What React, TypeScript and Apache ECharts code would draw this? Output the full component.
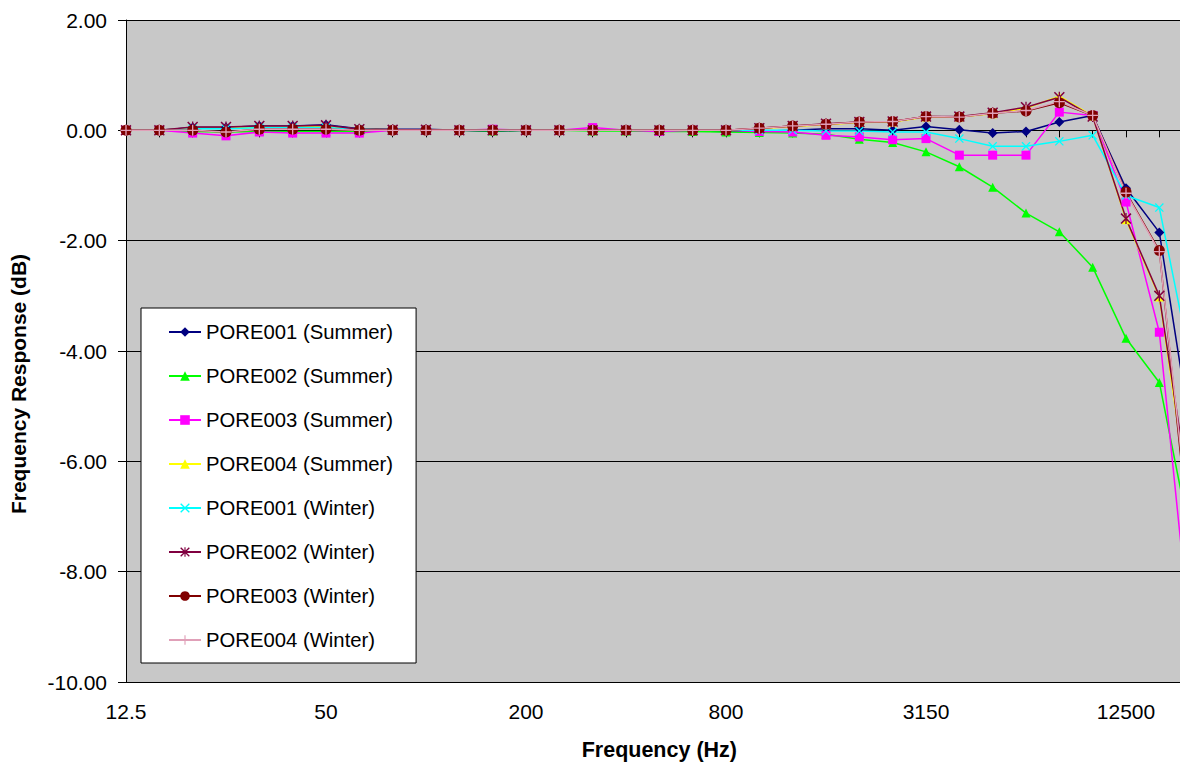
import React, { useEffect, useRef } from "react";
import * as echarts from "echarts";

const categories = [
  "12.5", "16", "20", "25", "31.5", "40", "50", "63", "80", "100", "125", "160",
  "200", "250", "315", "400", "500", "630", "800", "1000", "1250", "1600", "2000",
  "2500", "3150", "4000", "5000", "6300", "8000", "10000", "12500", "16000", "20000",
];

const pore001Summer = [0, 0, 0.05, 0.05, 0.08, 0.08, 0.1, 0.03, 0.02, 0.02, 0.0, -0.02, 0.0, 0.0, 0.0, 0.0, -0.01, -0.01, -0.02, -0.02, 0.0, 0.03, 0.03, 0.0, 0.07, 0.01, -0.05, -0.02, 0.15, 0.27, -1.05, -1.85, -5.7];
const pore002Summer = [0, 0, -0.02, -0.03, -0.02, -0.02, -0.02, -0.02, 0.0, 0.0, 0.0, -0.01, 0.0, 0.0, -0.01, -0.01, -0.02, -0.02, -0.03, -0.04, -0.05, -0.07, -0.16, -0.22, -0.39, -0.66, -1.03, -1.5, -1.84, -2.48, -3.77, -4.57, -7.6];
const pore003Summer = [0, 0, -0.05, -0.1, -0.03, -0.05, -0.05, -0.05, 0.0, 0.0, 0.0, 0.02, 0.0, 0.0, 0.05, 0.0, -0.02, 0.0, 0.0, -0.02, -0.03, -0.09, -0.12, -0.17, -0.15, -0.45, -0.45, -0.45, 0.33, 0.27, -1.3, -3.66, -9.6];
const pore004Summer = [0, 0, 0.04, 0.04, 0.06, 0.06, 0.07, 0.02, 0.01, 0.01, 0.0, 0.0, 0.0, 0.0, 0.0, 0.0, 0.0, 0.0, 0.0, 0.03, 0.07, 0.1, 0.14, 0.15, 0.24, 0.24, 0.3, 0.4, 0.62, 0.26, -1.62, -3.02, -7.2];
const pore001Winter = [0, 0, 0.03, 0.03, 0.05, 0.05, 0.05, 0.02, 0.0, 0.0, 0.0, 0.0, 0.0, 0.0, 0.0, 0.0, 0.0, 0.0, 0.0, 0.0, 0.0, -0.01, -0.01, -0.03, -0.03, -0.15, -0.29, -0.29, -0.2, -0.09, -1.18, -1.4, -4.4];
const pore002Winter = [0, 0, 0.06, 0.06, 0.08, 0.08, 0.09, 0.02, 0.01, 0.01, 0.0, 0.0, 0.0, 0.0, 0.0, 0.0, 0.0, 0.0, 0.0, 0.04, 0.08, 0.12, 0.15, 0.16, 0.25, 0.25, 0.32, 0.42, 0.6, 0.25, -1.6, -3.0, -7.0];
const pore003Winter = [0, 0, 0.0, -0.03, 0.02, 0.02, 0.02, 0.0, 0.0, 0.0, 0.0, 0.0, 0.0, 0.0, 0.0, 0.0, 0.0, 0.0, 0.0, 0.04, 0.08, 0.11, 0.15, 0.16, 0.25, 0.24, 0.31, 0.35, 0.5, 0.27, -1.12, -2.18, -8.0];
const pore004Winter = [0, 0, 0.0, -0.03, 0.02, 0.02, 0.02, 0.0, 0.0, 0.0, 0.0, 0.0, 0.0, 0.0, 0.0, 0.0, 0.0, 0.0, 0.0, 0.04, 0.08, 0.11, 0.15, 0.16, 0.25, 0.24, 0.31, 0.36, 0.52, 0.27, -1.14, -2.2, -7.8];

const yTicks = [-10, -8, -6, -4, -2, 0, 2];

const FONT = "'Liberation Sans', Arial, sans-serif";

const X_SYMBOL = "path://M0,1L1,0L5,4L9,0L10,1L6,5L10,9L9,10L5,6L1,10L0,9L4,5Z";
const STAR_SYMBOL = "path://M0,1L1,0L5,4L9,0L10,1L6,5L10,9L9,10L5,6L1,10L0,9L4,5Z M4.4,0L5.6,0L5.6,10L4.4,10Z";
const PLUS_SYMBOL = "path://M4.4,0L5.6,0L5.6,4.4L10,4.4L10,5.6L5.6,5.6L5.6,10L4.4,10L4.4,5.6L0,5.6L0,4.4L4.4,4.4Z";

const seriesDefs = [
  { name: "PORE001 (Summer)", data: pore001Summer, color: "#000080", symbol: "diamond", size: 10 },
  { name: "PORE002 (Summer)", data: pore002Summer, color: "#00ff00", symbol: "triangle", size: 9 },
  { name: "PORE003 (Summer)", data: pore003Summer, color: "#ff00ff", symbol: "rect", size: 9 },
  { name: "PORE004 (Summer)", data: pore004Summer, color: "#ffff00", symbol: "triangle", size: 9 },
  { name: "PORE001 (Winter)", data: pore001Winter, color: "#00ffff", symbol: X_SYMBOL, size: 9 },
  { name: "PORE002 (Winter)", data: pore002Winter, color: "#800040", symbol: STAR_SYMBOL, size: 11 },
  { name: "PORE003 (Winter)", data: pore003Winter, color: "#800000", symbol: "circle", size: 11 },
  { name: "PORE004 (Winter)", data: pore004Winter, color: "#e0a0b8", symbol: PLUS_SYMBOL, size: 11 },
];

export default function App() {
  const ref = useRef<HTMLDivElement>(null);

  useEffect(() => {
    if (!ref.current) return;
    const chart = echarts.init(ref.current, null, { renderer: "svg" });
    const plotWidth = (categories.length - 1) * (200 / 6);
    chart.setOption({
      animation: false,
      textStyle: { fontFamily: FONT },
      grid: {
        left: 126,
        top: 20,
        width: plotWidth,
        height: 662,
        show: true,
        backgroundColor: "#c8c8c8",
        borderWidth: 0,
        containLabel: false,
        outerBoundsMode: "none",
      },
      legend: {
        orient: "vertical",
        left: 141,
        top: 308,
        backgroundColor: "#ffffff",
        borderColor: "#000000",
        borderWidth: 1,
        padding: [14, 23, 13, 27],
        itemWidth: 32,
        itemHeight: 12,
        itemGap: 24,
        textStyle: { fontSize: 20.3, fontFamily: FONT, color: "#000", lineHeight: 20 },
        data: seriesDefs.map((s) => s.name),
      },
      xAxis: {
        type: "category",
        data: categories,
        boundaryGap: false,
        name: "Frequency (Hz)",
        nameLocation: "middle",
        nameGap: 57,
        nameTextStyle: { fontSize: 21.5, fontWeight: "bold", color: "#000", fontFamily: FONT },
        axisLine: { show: true, lineStyle: { color: "#000", width: 1 } },
        axisTick: { show: true, interval: 0, length: 7, lineStyle: { color: "#000" } },
        axisLabel: { interval: 5, margin: 19, fontSize: 21, color: "#000", fontFamily: FONT },
        splitLine: { show: false },
      },
      yAxis: {
        type: "value",
        min: yTicks[0],
        max: yTicks[yTicks.length - 1],
        interval: 2,
        axisLine: { show: true, lineStyle: { color: "#000", width: 1 } },
        axisTick: { show: true, length: 8, lineStyle: { color: "#000" } },
        axisLabel: {
          margin: 19,
          fontSize: 21,
          color: "#000",
          fontFamily: FONT,
          formatter: (v: number) => v.toFixed(2),
        },
        splitLine: { show: true, lineStyle: { color: "#000", width: 1 } },
      },
      graphic: [
        {
          type: "text",
          x: 18,
          y: 384,
          rotation: Math.PI / 2,
          style: {
            text: "Frequency Response (dB)",
            fontSize: 21,
            fontWeight: "bold",
            fontFamily: FONT,
            fill: "#000",
            textAlign: "center",
            textVerticalAlign: "middle",
          },
        },
      ],
      series: seriesDefs.map((s) => ({
        name: s.name,
        type: "line",
        data: s.data,
        symbol: s.symbol,
        symbolSize: s.size,
        showAllSymbol: true,
        clip: true,
        lineStyle: { color: s.color, width: 1.5 },
        itemStyle: { color: s.color },
        emphasis: { disabled: true },
      })),
    });
    return () => chart.dispose();
  }, []);

  return (
    <div style={{ position: "absolute", left: 0, top: 0, width: 1180, height: 767, overflow: "hidden", background: "#fff" }}>
      <div ref={ref} style={{ width: 1230, height: 767 }} />
    </div>
  );
}
